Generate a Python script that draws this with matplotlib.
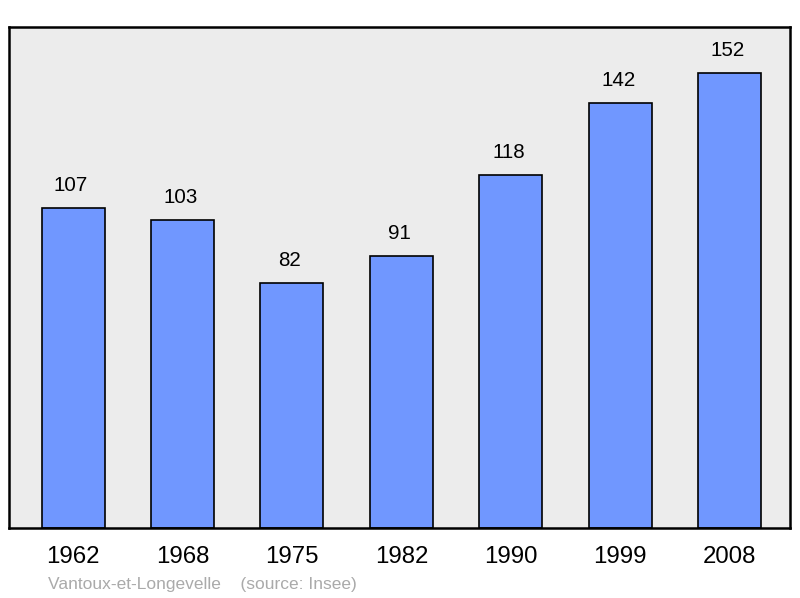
import matplotlib.pyplot as plt

# population data
years = ['1962', '1968', '1975', '1982', '1990', '1999', '2008']
population = [107, 103, 82, 91, 118, 142, 152]
commune = 'Vantoux-et-Longevelle'
source = '(source: Insee)'

plt.rcParams['font.family'] = ['Liberation Sans', 'DejaVu Sans']

fig = plt.figure(figsize=(8, 5.98), dpi=100)
ax = fig.add_axes([9 / 800, 70 / 598, 781 / 800, 501 / 598])
ax.set_facecolor('#ececec')

x = range(len(years))
bars = ax.bar(x, population, width=0.576, color='#7097ff',
              edgecolor='black', linewidth=1.2, zorder=2)

for xi, v in zip(x, population):
    ax.annotate(str(v), (xi, v), xytext=(-1.5, 16), textcoords='offset points',
                ha='center', va='center', fontsize=14.8)

ax.set_xlim(-0.585, 6.55)
ax.set_ylim(0, 167.4)
ax.set_yticks([])
ax.set_xticks(list(x))
ax.set_xticklabels(years, fontsize=17.3)
ax.tick_params(axis='x', length=0, pad=13)
for s in ax.spines.values():
    s.set_linewidth(1.8)
    s.set_color('black')

fig.text(48 / 800, 1 - 584 / 598, commune + '    ' + source,
         fontsize=12.5, color='#aaaaaa', ha='left', va='center')

fig.savefig('out.png', dpi=100)
